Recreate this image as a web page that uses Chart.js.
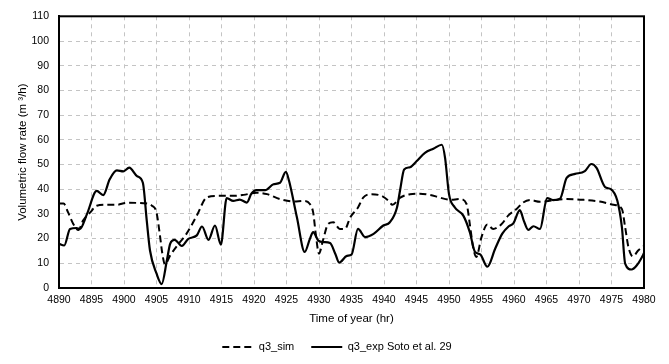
<!DOCTYPE html>
<html>
<head>
<meta charset="utf-8">
<script src="https://cdn.jsdelivr.net/npm/chart.js@4/dist/chart.umd.min.js"></script>
<style>
  html, body { margin: 0; padding: 0; background: #fff; }
  #wrap { width: 669px; height: 364px; }
</style>
</head>
<body>
<div id="wrap"><canvas id="c" width="669" height="364"></canvas></div>
<script>
// ---- data ----
const simLabel = 'q3_sim';
const expLabel = 'q3_exp Soto et al. 29';

const simTime = [4890.0, 4890.7, 4891.4, 4892.2, 4893.0, 4893.7, 4894.8, 4895.8, 4897.3, 4898.9,
  4900.4, 4903.0, 4904.3, 4905.0, 4905.5, 4905.9, 4906.3, 4907.1, 4908.4, 4909.6,
  4911.2, 4912.7, 4914.3, 4916.8, 4918.4, 4920.4, 4922.0, 4924.0, 4926.1, 4927.6,
  4928.6, 4929.1, 4929.5, 4930.0, 4930.6, 4931.4, 4932.2, 4933.2, 4934.0, 4934.8,
  4936.0, 4936.8, 4938.1, 4939.6, 4940.7, 4941.3, 4942.5, 4944.0, 4945.5, 4947.1,
  4948.6, 4950.2, 4951.7, 4952.7, 4953.2, 4953.7, 4954.2, 4955.0, 4955.9, 4956.8,
  4958.1, 4959.1, 4960.4, 4961.4, 4962.5, 4964.0, 4965.5, 4968.1, 4970.7, 4973.2,
  4975.3, 4976.6, 4977.1, 4977.6, 4978.3, 4979.1, 4980.0];
const simFlow = [34.2, 34.2, 30.6, 25.9, 23.5, 27.3, 30.6, 33.3, 33.7, 33.7,
  34.5, 34.3, 33.3, 30.6, 21.9, 13.9, 9.6, 13.2, 17.9, 21.9,
  29.3, 36.6, 37.3, 37.3, 37.7, 38.6, 38.0, 36.0, 35.0, 35.3,
  34.0, 30.6, 21.9, 13.9, 19.2, 25.9, 26.6, 23.9, 23.9, 28.6,
  32.6, 36.6, 38.0, 37.3, 35.3, 33.7, 36.6, 38.0, 38.2, 37.7,
  36.6, 35.7, 36.0, 34.0, 25.9, 16.6, 12.6, 20.6, 25.7, 23.9,
  25.9, 29.3, 32.0, 34.6, 35.6, 34.9, 35.3, 36.0, 35.7, 35.0,
  33.7, 32.0, 24.6, 16.6, 12.8, 15.2, 17.0];

const expTime = [4890.0, 4890.8, 4891.7, 4892.7, 4893.2, 4894.3, 4895.8, 4896.8, 4897.8, 4898.9,
  4899.9, 4900.8, 4902.0, 4902.9, 4903.5, 4904.0, 4905.0, 4905.8, 4906.6, 4907.1,
  4907.8, 4908.9, 4909.9, 4911.2, 4912.0, 4913.0, 4914.0, 4914.9, 4915.8, 4916.8,
  4917.8, 4918.9, 4919.6, 4920.4, 4921.7, 4923.0, 4924.0, 4924.9, 4925.4, 4926.6,
  4927.8, 4928.6, 4929.1, 4929.9, 4930.7, 4931.7, 4932.5, 4933.1, 4934.3, 4935.0,
  4936.0, 4937.1, 4938.4, 4939.9, 4940.9, 4942.0, 4942.5, 4943.1, 4944.0, 4945.0,
  4946.3, 4947.6, 4948.9, 4949.4, 4950.0, 4950.9, 4952.2, 4953.2, 4954.0, 4954.8,
  4955.9, 4957.1, 4958.2, 4959.2, 4959.9, 4960.9, 4961.5, 4962.2, 4963.0, 4964.0,
  4965.1, 4966.0, 4967.1, 4968.1, 4969.4, 4970.9, 4971.9, 4972.7, 4974.0, 4974.9,
  4975.9, 4976.6, 4977.1, 4978.1, 4978.9, 4979.9, 4980.0];
const expFlow = [17.9, 17.2, 23.9, 24.3, 23.9, 29.9, 39.3, 37.6, 44.0, 47.6,
  47.2, 48.7, 45.3, 42.6, 27.3, 15.2, 5.9, 1.6, 11.2, 17.9,
  19.5, 17.0, 19.9, 21.3, 24.9, 19.5, 25.3, 17.6, 36.4, 35.3,
  35.8, 34.6, 38.2, 39.6, 39.6, 42.0, 42.6, 47.0, 43.3, 28.6,
  14.6, 19.9, 22.6, 19.2, 18.6, 18.2, 13.9, 10.3, 13.0, 13.5,
  23.9, 20.6, 21.9, 25.3, 26.6, 32.6, 40.0, 48.0, 48.9, 51.3,
  54.7, 56.4, 58.0, 52.6, 38.0, 32.6, 29.3, 22.6, 14.6, 13.6,
  8.6, 15.9, 22.0, 25.0, 26.2, 31.5, 27.3, 23.5, 25.0, 23.9,
  36.4, 35.6, 36.2, 44.6, 46.2, 47.3, 50.2, 48.6, 40.9, 40.0,
  35.3, 24.6, 9.9, 7.5, 9.2, 13.6, 14.2];

const xMin = 4890, xMax = 4980, xStep = 5;
const yMin = 0, yMax = 110, yStep = 10;
const xTitle = 'Time of year (hr)';
const yTitle = 'Volumetric flow rate (m \u00B3/h)';

// ---- chart ----
Chart.defaults.font.family = "'Liberation Sans', Arial, sans-serif";
Chart.defaults.font.size = 11;
Chart.defaults.color = '#000';

const toPts = (xs, ys) => xs.map((x, i) => ({ x: x, y: ys[i] }));

const frame = {
  id: 'frame',
  afterDraw(chart) {
    const a = chart.chartArea, ctx = chart.ctx;
    ctx.save();
    ctx.strokeStyle = '#000';
    ctx.lineWidth = 2;
    ctx.setLineDash([]);
    ctx.strokeRect(a.left, a.top, a.right - a.left, a.bottom - a.top);
    ctx.restore();
  }
};

const legendFix = {
  id: 'legendFix',
  beforeLayout(chart) {
    const lg = chart.legend;
    if (lg && !lg._patched) {
      const orig = lg.fit;
      lg.fit = function () { orig.call(this); this.height = 39.5; };
      lg._patched = true;
    }
  }
};

const gridDash = [4, 4];

new Chart(document.getElementById('c'), {
  type: 'line',
  data: {
    datasets: [
      {
        label: simLabel,
        data: toPts(simTime, simFlow),
        borderColor: '#000',
        backgroundColor: '#000',
        borderWidth: 2,
        borderDash: [7, 4],
        pointRadius: 0,
        cubicInterpolationMode: 'monotone',
        fill: false
      },
      {
        label: expLabel,
        data: toPts(expTime, expFlow),
        borderColor: '#000',
        backgroundColor: '#000',
        borderWidth: 2.2,
        pointRadius: 0,
        cubicInterpolationMode: 'monotone',
        fill: false
      }
    ]
  },
  options: {
    responsive: false,
    animation: false,
    layout: { padding: { left: 30, right: 25, top: 13, bottom: 0 } },
    plugins: {
      tooltip: { enabled: false },
      legend: {
        position: 'bottom',
        labels: {
          usePointStyle: true,
          pointStyle: 'line',
          pointStyleWidth: 31,
          padding: 17,
          color: '#000',
          font: { size: 11 },
          generateLabels(chart) {
            const items = Chart.defaults.plugins.legend.labels.generateLabels(chart);
            return items.map(it => {
              const ds = chart.data.datasets[it.datasetIndex];
              it.lineDash = ds.borderDash || [];
              it.lineWidth = 2;
              it.strokeStyle = '#000';
              it.fillStyle = '#000';
              it.lineCap = 'butt';
              return it;
            });
          }
        }
      }
    },
    scales: {
      x: {
        type: 'linear',
        min: xMin, max: xMax,
        grid: { color: '#c4c4c4', lineWidth: 1, drawTicks: false },
        border: { display: true, color: '#000', width: 2, dash: gridDash },
        ticks: { stepSize: xStep, padding: 6, color: '#000', font: { size: 10.5 }, callback: v => String(v), maxRotation: 0, autoSkip: false },
        title: { display: true, text: xTitle, color: '#000', font: { size: 11.5 }, padding: { top: 0, bottom: -1.5 } },
        afterFit(s) { s.height = 36.5; }
      },
      y: {
        min: yMin, max: yMax,
        grid: { color: '#c4c4c4', lineWidth: 1, drawTicks: false },
        border: { display: true, color: '#000', width: 2, dash: gridDash },
        ticks: { stepSize: yStep, padding: 10, color: '#000', font: { size: 10.5 }, callback: v => String(v) },
        title: { display: true, text: yTitle, color: '#000', font: { size: 11.5 }, padding: { top: -14, bottom: 0 } },
        afterFit(s) { s.width = 29; }
      }
    }
  },
  plugins: [frame, legendFix]
});
</script>
</body>
</html>
